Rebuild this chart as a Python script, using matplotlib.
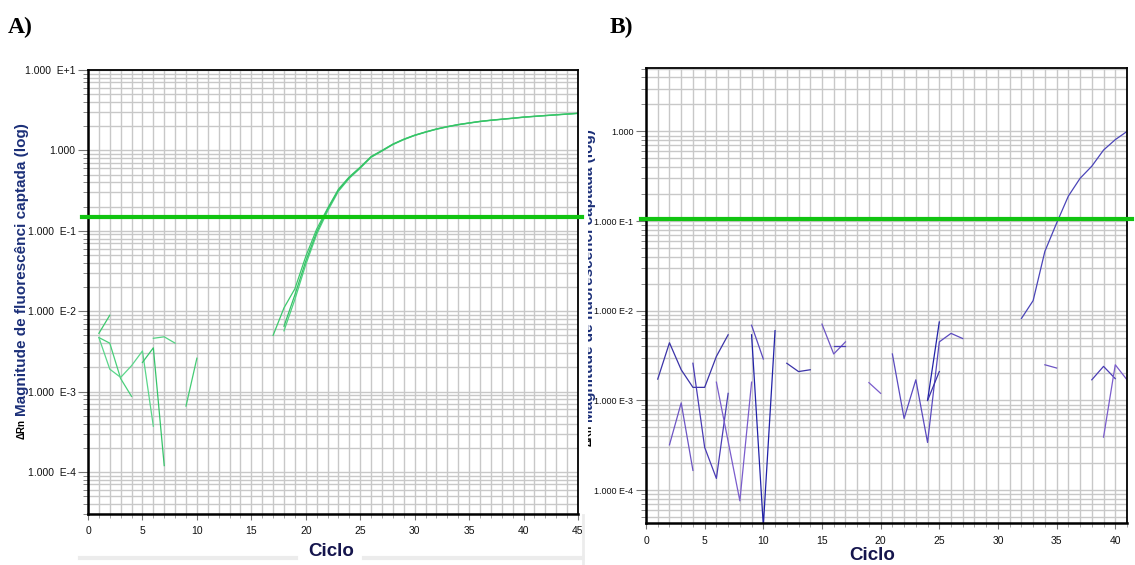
import numpy as np
import matplotlib
matplotlib.use("Agg")
import matplotlib.pyplot as plt
from matplotlib.ticker import FixedLocator, FixedFormatter, MultipleLocator, LogLocator, NullFormatter
from matplotlib.lines import Line2D
from matplotlib.transforms import Bbox, TransformedBbox

plt.rcParams['font.family'] = ['Liberation Sans', 'DejaVu Sans']

# ---------------- data: panel A ----------------
a_amp1_cycles = list(range(17, 46))
a_amp1 = [5.0e-3, 1.1e-2, 1.9e-2, 4.8e-2, 1.05e-1, 1.9e-1, 3.3e-1, 4.7e-1, 6.2e-1, 8.4e-1,
          1.0, 1.2, 1.38, 1.55, 1.7, 1.85, 1.98, 2.1, 2.2, 2.3, 2.38, 2.45, 2.52, 2.6, 2.66,
          2.72, 2.78, 2.84, 2.9]
a_amp2_cycles = list(range(18, 46))
a_amp2 = [5.7e-3, 1.4e-2, 3.8e-2, 9.0e-2, 1.75e-1, 3.1e-1, 4.5e-1, 6.0e-1, 8.2e-1,
          0.98, 1.18, 1.36, 1.53, 1.68, 1.83, 1.96, 2.08, 2.18, 2.28, 2.36, 2.43, 2.5, 2.58,
          2.64, 2.7, 2.76, 2.82, 2.88]
a_amp3_cycles = list(range(18, 46))
a_amp3 = [6.5e-3, 1.6e-2, 4.2e-2, 9.6e-2, 1.85e-1, 3.2e-1, 4.6e-1, 6.1e-1, 8.3e-1,
          0.99, 1.19, 1.37, 1.54, 1.69, 1.84, 1.97, 2.09, 2.19, 2.29, 2.37, 2.44, 2.51, 2.59,
          2.65, 2.71, 2.77, 2.83, 2.89]

a_noise = [
    ([1, 2], [5.3e-3, 8.9e-3]),
    ([1, 2, 3, 4], [4.7e-3, 4.0e-3, 1.45e-3, 8.7e-4]),
    ([1, 2, 3, 4, 5, 6], [4.7e-3, 1.9e-3, 1.5e-3, 2.1e-3, 3.2e-3, 3.7e-4]),
    ([5, 6, 7], [2.3e-3, 3.5e-3, 1.2e-4]),
    ([6, 7, 8], [4.6e-3, 4.8e-3, 4.0e-3]),
    ([9, 10], [6.6e-4, 2.6e-3]),
]
a_threshold = 0.15

# ---------------- data: panel B ----------------
b_amp_cycles = list(range(32, 42))
b_amp = [8.2e-3, 1.3e-2, 4.6e-2, 9.5e-2, 1.9e-1, 3.0e-1, 4.1e-1, 6.2e-1, 8.1e-1, 1.0]

b_noise = [
    ([1, 2, 3, 4, 5, 6, 7], [1.73e-3, 4.4e-3, 2.2e-3, 1.4e-3, 1.4e-3, 3.1e-3, 5.4e-3]),
    ([2, 3, 4], [3.2e-4, 9.4e-4, 1.66e-4]),
    ([4, 5, 6, 7], [2.6e-3, 3.0e-4, 1.35e-4, 1.2e-3]),
    ([6, 7, 8, 9], [1.6e-3, 3.5e-4, 7.6e-5, 1.6e-3]),
    ([9, 10], [6.9e-3, 2.9e-3]),
    ([9, 10, 11], [5.4e-3, 4.0e-5, 6.0e-3]),
    ([12, 13, 14], [2.6e-3, 2.1e-3, 2.2e-3]),
    ([15, 16, 17], [7.1e-3, 3.3e-3, 4.5e-3]),
    ([16, 17], [4.0e-3, 4.0e-3]),
    ([19, 20], [1.58e-3, 1.2e-3]),
    ([21, 22, 23, 24, 25, 26, 27], [3.3e-3, 6.3e-4, 1.7e-3, 3.4e-4, 4.5e-3, 5.6e-3, 4.9e-3]),
    ([24, 25], [1.0e-3, 7.5e-3]),
    ([24, 25], [1.0e-3, 2.1e-3]),
    ([34, 35], [2.5e-3, 2.3e-3]),
    ([38, 39, 40], [1.7e-3, 2.4e-3, 1.75e-3]),
    ([39, 40, 41], [3.9e-4, 2.5e-3, 1.7e-3]),
]
b_threshold = 0.105

a_ytick_vals = [1e1, 1e0, 1e-1, 1e-2, 1e-3, 1e-4]
a_ytick_labels = ['1.000  E+1', '1.000', '1.000  E-1', '1.000  E-2', '1.000  E-3', '1.000  E-4']
b_ytick_vals = [1e0, 1e-1, 1e-2, 1e-3, 1e-4]
b_ytick_labels = ['1.000', '1.000 E-1', '1.000 E-2', '1.000 E-3', '1.000 E-4']

W, H = 1135, 565
fig = plt.figure(figsize=(W / 100, H / 100), dpi=100)
fig.patch.set_facecolor('white')


def px_axes(l, t, r, b):
    return fig.add_axes([l / W, 1 - b / H, (r - l) / W, (b - t) / H])


def style_axes(ax, xmax, ylim, yvals, ylabels, ylabsize):
    ax.set_yscale('log')
    ax.set_xlim(0, xmax)
    ax.set_ylim(*ylim)
    ax.xaxis.set_major_locator(MultipleLocator(5))
    ax.xaxis.set_minor_locator(MultipleLocator(1))
    ax.yaxis.set_major_locator(FixedLocator(yvals))
    ax.yaxis.set_major_formatter(FixedFormatter(ylabels))
    ax.yaxis.set_minor_locator(LogLocator(base=10, subs=np.arange(2, 10)))
    ax.yaxis.set_minor_formatter(NullFormatter())
    ax.grid(True, which='both', color='#c8c8c8', linewidth=1.0)
    ax.set_axisbelow(True)
    ax.tick_params(axis='y', which='major', length=7, width=0.8, color='#777777',
                   labelsize=ylabsize, pad=2, labelcolor='#111111')
    ax.tick_params(axis='y', which='minor', length=3.5, width=0.6, color='#777777')
    ax.tick_params(axis='x', which='major', length=4, width=0.8, color='#777777',
                   labelsize=7.5, pad=5, labelcolor='#111111')
    ax.tick_params(axis='x', which='minor', length=3, width=0.6, color='#999999')
    ax.spines['left'].set_linewidth(1.8)
    ax.spines['bottom'].set_linewidth(1.8)
    ax.spines['top'].set_linewidth(1.3)
    ax.spines['right'].set_linewidth(1.3)
    for s in ax.spines.values():
        s.set_color('black')


# ---------------- panel A ----------------
axA = px_axes(88, 70, 578, 514)
style_axes(axA, 45, (3.0e-5, 10), a_ytick_vals, a_ytick_labels, 7.5)
green_cols = ['#3cc96c', '#49cf7a', '#5ad68a', '#36c46a', '#52d282', '#44cc74']
for i, (c, v) in enumerate(a_noise):
    axA.plot(c, v, color=green_cols[i % len(green_cols)], lw=0.9)
axA.plot(a_amp1_cycles, a_amp1, color='#3cc96c', lw=0.9)
axA.plot(a_amp2_cycles, a_amp2, color='#4fd27f', lw=0.9)
axA.plot(a_amp3_cycles, a_amp3, color='#35c266', lw=0.9)
axA.axhline(a_threshold, xmin=-0.012, xmax=1.008, color='#11c411', lw=3, clip_on=False, zorder=5)

# ---------------- panel B ----------------
axB = px_axes(646, 68, 1127, 523)
style_axes(axB, 41, (4.3e-5, 5.1), b_ytick_vals, b_ytick_labels, 6.5)
blue_cols = ['#3b33a8', '#6d55c4', '#4a3cb5', '#7a5ccc', '#5a4abf', '#2222a8']
for i, (c, v) in enumerate(b_noise):
    axB.plot(c, v, color=blue_cols[i % len(blue_cols)], lw=0.9)
axB.plot(b_amp_cycles, b_amp, color='#4a44b8', lw=0.9)
axB.axhline(b_threshold, xmin=-0.01, xmax=1.01, color='#11c411', lw=3, clip_on=False, zorder=5)

# ---------------- labels ----------------
serif = ['Liberation Serif', 'DejaVu Serif']
fig.text(8 / W, 1 - 33 / H, 'A)', fontfamily=serif, fontweight='bold', fontsize=17,
         ha='left', va='baseline')
fig.text(610 / W, 1 - 33 / H, 'B)', fontfamily=serif, fontweight='bold', fontsize=17,
         ha='left', va='baseline')

navy = '#1b2f78'
# panel A y label
fig.text(22 / W, 1 - 439 / H, 'ΔRn', rotation=90, ha='center', va='bottom',
         fontsize=7, fontweight='bold', color='black')
fig.text(22 / W, 1 - 416 / H, 'Magnitude de fluorescênci captada (log)',
         rotation=90, ha='center', va='bottom', fontsize=11, fontweight='bold', color=navy)

# panel B y label (partly cut off at the panel's left edge, as in the reference)
clip = TransformedBbox(Bbox([[588 / W, 0], [1, 1]]), fig.transFigure)
t1 = fig.text(589 / W, 1 - 446 / H, 'ΔRn', rotation=90, ha='center', va='bottom',
              fontsize=7.5, fontweight='bold', color='black')
t2 = fig.text(589 / W, 1 - 422 / H, 'Magnitude de fluorescênci captada (log)',
              rotation=90, ha='center', va='bottom', fontsize=11, fontweight='bold', color=navy)
for t in (t1, t2):
    t.set_clip_box(clip)
    t.set_clip_on(True)

fig.text(331 / W, 1 - 552 / H, 'Ciclo', ha='center', va='center', fontsize=13.5,
         fontweight='bold', color='#15154d')
fig.text(872 / W, 1 - 555 / H, 'Ciclo', ha='center', va='center', fontsize=13.5,
         fontweight='bold', color='#15154d')

# light separator lines seen under panel A
fig.add_artist(Line2D([80 / W, 296 / W], [1 - 558 / H] * 2, color='#ececec', lw=3))
fig.add_artist(Line2D([364 / W, 582 / W], [1 - 558 / H] * 2, color='#ececec', lw=3))
fig.add_artist(Line2D([583 / W] * 2, [1 - 515 / H, 1 - 565 / H], color='#ececec', lw=2))

fig.savefig('out.png', dpi=100, facecolor='white')
